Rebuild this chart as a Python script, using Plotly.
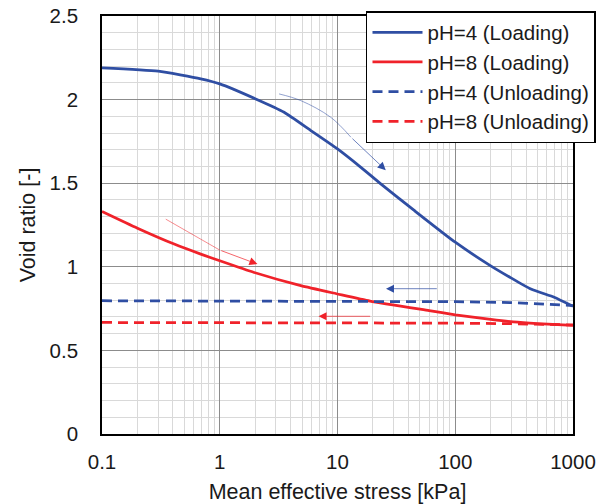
import numpy as np
import plotly.graph_objects as go

# ---- data ----
stress_ph4_load = [0.1, 0.3, 0.69, 1, 2.02, 3.52, 5.93, 10, 15.8, 23.3, 44.8, 100, 200, 439, 692, 1000]
void_ph4_load   = [2.19, 2.17, 2.124, 2.094, 2.004, 1.924, 1.815, 1.705, 1.595, 1.496, 1.337, 1.147, 1.006, 0.867, 0.818, 0.764]

stress_ph8_load = [0.1, 0.2, 0.41, 0.69, 1, 1.96, 4.88, 9.8, 18.9, 60, 100, 200, 311, 500, 1000]
void_ph8_load   = [1.331, 1.231, 1.136, 1.076, 1.036, 0.966, 0.887, 0.839, 0.795, 0.738, 0.713, 0.685, 0.670, 0.660, 0.650]

stress_ph4_unload = [0.1, 10, 100, 300, 700, 1000]
void_ph4_unload   = [0.797, 0.795, 0.791, 0.786, 0.775, 0.768]

stress_ph8_unload = [0.1, 10, 100, 300, 1000]
void_ph8_unload   = [0.667, 0.666, 0.663, 0.660, 0.652]

# annotation arrows (path points; last point is the head)
arrow_ph4_load_x = [3.19, 4.88, 8.77, 13.0, 25.7]
arrow_ph4_load_y = [2.034, 1.994, 1.894, 1.775, 1.578]
arrow_ph8_load_x = [0.348, 1.0, 2.09]
arrow_ph8_load_y = [1.285, 1.10, 1.016]
arrow_ph4_unload_x = [71.8, 25.8]
arrow_ph4_unload_y = [0.869, 0.869]
arrow_ph8_unload_x = [19.5, 6.9]
arrow_ph8_unload_y = [0.704, 0.704]

x_tickvals = [0.1, 1, 10, 100, 1000]
x_ticktext = ["0.1", "1", "10", "100", "1000"]
y_tickvals = [0, 0.5, 1, 1.5, 2, 2.5]
y_ticktext = ["0", "0.5", "1", "1.5", "2", "2.5"]

BLUE = "#2f4ea3"
RED = "#f0222a"
FONT = "Arial, Liberation Sans, sans-serif"
TXT = "#1a1a1a"

fig = go.Figure()
fig.add_trace(go.Scatter(x=stress_ph4_load, y=void_ph4_load, mode="lines", name="pH=4 (Loading)",
                         line=dict(color=BLUE, width=2.75, shape="spline", smoothing=0.5)))
fig.add_trace(go.Scatter(x=stress_ph8_load, y=void_ph8_load, mode="lines", name="pH=8 (Loading)",
                         line=dict(color=RED, width=2.75, shape="spline", smoothing=0.5)))
fig.add_trace(go.Scatter(x=stress_ph4_unload, y=void_ph4_unload, mode="lines", name="pH=4 (Unloading)",
                         line=dict(color=BLUE, width=2.75, dash="10px,6px")))
fig.add_trace(go.Scatter(x=stress_ph8_unload, y=void_ph8_unload, mode="lines", name="pH=8 (Unloading)",
                         line=dict(color=RED, width=2.75, dash="10px,6px")))

# curved thin arrow bodies
for ax_, ay_, col in [(arrow_ph4_load_x, arrow_ph4_load_y, BLUE), (arrow_ph8_load_x, arrow_ph8_load_y, RED)]:
    fig.add_trace(go.Scatter(x=ax_[:-1], y=ay_[:-1], mode="lines", showlegend=False, hoverinfo="skip",
                             opacity=0.75, line=dict(color=col, width=0.7, shape="spline")))

# arrow heads (annotations, log axis -> log10 coordinates)
for ax_, ay_, col in [(arrow_ph4_load_x, arrow_ph4_load_y, BLUE), (arrow_ph8_load_x, arrow_ph8_load_y, RED),
                      (arrow_ph4_unload_x, arrow_ph4_unload_y, BLUE), (arrow_ph8_unload_x, arrow_ph8_unload_y, RED)]:
    fig.add_annotation(x=np.log10(ax_[-1]), y=ay_[-1], ax=np.log10(ax_[-2]), ay=ay_[-2],
                       xref="x", yref="y", axref="x", ayref="y", text="", showarrow=True,
                       arrowhead=2, arrowsize=2.3, arrowwidth=0.7, arrowcolor=col)

# black y-axis line at x = 1
fig.add_shape(type="line", xref="x", yref="paper", x0=0, x1=0, y0=0, y1=1,
              line=dict(color="black", width=1.6), layer="above")

fig.update_xaxes(type="log", range=[-1, 3], tickvals=x_tickvals, ticktext=x_ticktext,
                 showgrid=True, gridcolor="#8c8c8c", gridwidth=1.3,
                 minor=dict(showgrid=True, gridcolor="#d9d9d9", gridwidth=1.3, dtick="D1", ticks=""),
                 showline=True, mirror=True, linecolor="black", linewidth=1.6,
                 ticks="", ticklabelstandoff=9, zeroline=False, automargin=False,
                 title=dict(text="Mean effective stress [kPa]", font=dict(size=21.5, family=FONT, color=TXT),
                            standoff=16),
                 tickfont=dict(size=20.5, family=FONT, color=TXT))
fig.update_yaxes(range=[0, 2.5], tickvals=y_tickvals, ticktext=y_ticktext,
                 showgrid=True, gridcolor="#8c8c8c", gridwidth=1.3,
                 minor=dict(showgrid=True, gridcolor="#d9d9d9", gridwidth=1.3, dtick=0.1, ticks=""),
                 showline=True, mirror=True, linecolor="black", linewidth=1.6,
                 ticks="", ticklabelstandoff=18, zeroline=False, automargin=False,
                 title=dict(text="Void ratio [-]", font=dict(size=21.5, family=FONT, color=TXT),
                            standoff=8),
                 tickfont=dict(size=20.5, family=FONT, color=TXT))

fig.update_layout(
    width=611, height=504,
    margin=dict(l=102, r=38, t=15, b=70),
    plot_bgcolor="white", paper_bgcolor="white",
    font=dict(family=FONT, color=TXT),
    legend=dict(x=0.5605, y=1.0095, xanchor="left", yanchor="top",
                bgcolor="white", bordercolor="black", borderwidth=1.5,
                font=dict(size=20.5, family=FONT, color=TXT),
                itemwidth=50, tracegroupgap=0, traceorder="normal"),
)

fig.write_html("out.html")
